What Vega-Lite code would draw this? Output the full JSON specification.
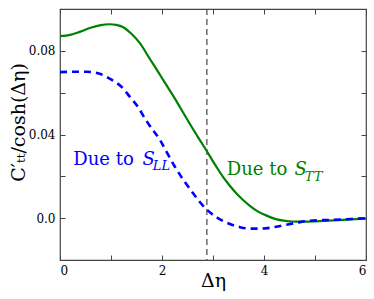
{
  "$schema": "https://vega.github.io/schema/vega-lite/v6.json",
  "width": 306,
  "height": 251,
  "autosize": {"type": "none"},
  "padding": {"left": 60, "top": 9, "right": 8, "bottom": 39},
  "background": "white",
  "config": {
    "view": {"stroke": "#444", "strokeWidth": 1.2},
    "font": "DejaVu Serif",
    "axis": {"grid": false, "domain": false, "ticks": true, "tickColor": "#444", "tickSize": 5, "tickWidth": 1, "offset": -5, "labelPadding": 5, "labelFont": "DejaVu Serif", "labelFontSize": 12, "labelColor": "black", "titleFont": "DejaVu Serif", "titleFontWeight": "normal", "titleColor": "black"}
  },
  "datasets": {
    "curves": [
      {"series": "TT", "x": 0, "y": 0.0870}, {"series": "TT", "x": 0.2, "y": 0.0876}, {"series": "TT", "x": 0.4, "y": 0.0892},
      {"series": "TT", "x": 0.6, "y": 0.0910}, {"series": "TT", "x": 0.8, "y": 0.0923}, {"series": "TT", "x": 0.97, "y": 0.0927},
      {"series": "TT", "x": 1.1, "y": 0.0924}, {"series": "TT", "x": 1.24, "y": 0.0913}, {"series": "TT", "x": 1.4, "y": 0.0882},
      {"series": "TT", "x": 1.57, "y": 0.0836}, {"series": "TT", "x": 1.76, "y": 0.0762}, {"series": "TT", "x": 1.9, "y": 0.0709},
      {"series": "TT", "x": 2.05, "y": 0.0650}, {"series": "TT", "x": 2.25, "y": 0.0573}, {"series": "TT", "x": 2.42, "y": 0.0503},
      {"series": "TT", "x": 2.58, "y": 0.0437}, {"series": "TT", "x": 2.73, "y": 0.0378}, {"series": "TT", "x": 2.88, "y": 0.0320},
      {"series": "TT", "x": 3.05, "y": 0.0252}, {"series": "TT", "x": 3.2, "y": 0.0196}, {"series": "TT", "x": 3.33, "y": 0.0155},
      {"series": "TT", "x": 3.46, "y": 0.0118}, {"series": "TT", "x": 3.59, "y": 0.0087}, {"series": "TT", "x": 3.73, "y": 0.0058},
      {"series": "TT", "x": 3.86, "y": 0.0035}, {"series": "TT", "x": 4.0, "y": 0.0017}, {"series": "TT", "x": 4.12, "y": 0.0005},
      {"series": "TT", "x": 4.25, "y": -0.0006}, {"series": "TT", "x": 4.38, "y": -0.0012}, {"series": "TT", "x": 4.55, "y": -0.0016},
      {"series": "TT", "x": 4.71, "y": -0.0017}, {"series": "TT", "x": 5.0, "y": -0.0015}, {"series": "TT", "x": 5.36, "y": -0.0011},
      {"series": "TT", "x": 5.7, "y": -0.0006}, {"series": "TT", "x": 6.0, "y": -0.0002},
      {"series": "LL", "x": 0, "y": 0.0698}, {"series": "LL", "x": 0.26, "y": 0.0700}, {"series": "LL", "x": 0.52, "y": 0.0700},
      {"series": "LL", "x": 0.78, "y": 0.0690}, {"series": "LL", "x": 1.01, "y": 0.0662}, {"series": "LL", "x": 1.21, "y": 0.0627},
      {"series": "LL", "x": 1.37, "y": 0.0580}, {"series": "LL", "x": 1.52, "y": 0.0535}, {"series": "LL", "x": 1.67, "y": 0.0475},
      {"series": "LL", "x": 1.76, "y": 0.0442}, {"series": "LL", "x": 1.96, "y": 0.0374}, {"series": "LL", "x": 2.1, "y": 0.0312},
      {"series": "LL", "x": 2.25, "y": 0.0247}, {"series": "LL", "x": 2.42, "y": 0.0183}, {"series": "LL", "x": 2.61, "y": 0.0119},
      {"series": "LL", "x": 2.84, "y": 0.0050}, {"series": "LL", "x": 3.07, "y": 0.0004}, {"series": "LL", "x": 3.2, "y": -0.0014},
      {"series": "LL", "x": 3.33, "y": -0.0028}, {"series": "LL", "x": 3.53, "y": -0.0043}, {"series": "LL", "x": 3.73, "y": -0.0050},
      {"series": "LL", "x": 3.92, "y": -0.0050}, {"series": "LL", "x": 4.12, "y": -0.0046}, {"series": "LL", "x": 4.38, "y": -0.0034},
      {"series": "LL", "x": 4.64, "y": -0.0022}, {"series": "LL", "x": 4.9, "y": -0.0012}, {"series": "LL", "x": 5.36, "y": -0.0008},
      {"series": "LL", "x": 5.7, "y": -0.0004}, {"series": "LL", "x": 6.0, "y": 0.0}
    ],
    "labels": [
      {"series": "LL", "kind": "roman", "text": "Due to", "x": 0.26, "y": 0.0255},
      {"series": "LL", "kind": "italic", "text": "S", "x": 1.62, "y": 0.0255},
      {"series": "LL", "kind": "sub", "text": "LL", "x": 1.82, "y": 0.0232},
      {"series": "TT", "kind": "roman", "text": "Due to", "x": 3.27, "y": 0.0207},
      {"series": "TT", "kind": "italic", "text": "S", "x": 4.6, "y": 0.0207},
      {"series": "TT", "kind": "sub", "text": "TT", "x": 4.8, "y": 0.0180}
    ],
    "vline": [{"x": 2.88}]
  },
  "resolve": {"axis": {"x": "independent", "y": "independent"}},
  "layer": [
    {
      "data": {"name": "vline"},
      "mark": {"type": "rule", "color": "#444", "strokeWidth": 1.2, "strokeDash": [6, 4]},
      "encoding": {
        "x": {"field": "x", "type": "quantitative", "scale": {"domain": [0, 6], "nice": false},
          "axis": {"orient": "bottom", "values": [0, 1, 2, 3, 4, 5, 6], "labelExpr": "datum.value % 2 == 0 ? datum.label : ''", "title": "Δη", "titleFontSize": 19, "titleBaseline": "alphabetic", "titleY": 31, "titleX": 153}},
        "y": {"datum": 0.1, "type": "quantitative", "scale": {"domain": [-0.02, 0.1], "nice": false, "zero": false},
          "axis": {"orient": "left", "values": [-0.02, 0, 0.02, 0.04, 0.06, 0.08, 0.1], "labelExpr": "datum.value == 0 ? '0.0' : (abs(datum.value - 0.04) < 1e-9 || abs(datum.value - 0.08) < 1e-9 ? format(datum.value, '.2f') : '')", "title": "C′ₜₜ/cosh(Δη)", "titleFontSize": 19, "titleBaseline": "alphabetic", "titleAngle": -90, "titleX": -41, "titleY": 113, "titleAlign": "center"}},
        "y2": {"datum": -0.02}
      }
    },
    {
      "data": {"name": "curves"},
      "transform": [{"filter": "datum.series == 'TT'"}],
      "mark": {"type": "line", "color": "#008000", "strokeWidth": 2.2, "interpolate": "monotone"},
      "encoding": {
        "x": {"field": "x", "type": "quantitative", "axis": {"orient": "top", "values": [0, 1, 2, 3, 4, 5, 6], "labels": false, "title": null}},
        "y": {"field": "y", "type": "quantitative", "axis": {"orient": "right", "values": [-0.02, 0, 0.02, 0.04, 0.06, 0.08, 0.1], "labels": false, "title": null}}
      }
    },
    {
      "data": {"name": "curves"},
      "transform": [{"filter": "datum.series == 'LL'"}],
      "mark": {"type": "line", "color": "#0000ff", "strokeWidth": 2.6, "strokeDash": [7, 5], "interpolate": "monotone"},
      "encoding": {
        "x": {"field": "x", "type": "quantitative", "axis": null},
        "y": {"field": "y", "type": "quantitative", "axis": null}
      }
    },
    {
      "data": {"name": "labels"},
      "transform": [{"filter": "datum.kind == 'roman'"}],
      "mark": {"type": "text", "align": "left", "baseline": "alphabetic", "fontSize": 18, "font": "DejaVu Serif"},
      "encoding": {
        "x": {"field": "x", "type": "quantitative", "axis": null},
        "y": {"field": "y", "type": "quantitative", "axis": null},
        "text": {"field": "text"},
        "color": {"field": "series", "type": "nominal", "scale": {"domain": ["LL", "TT"], "range": ["#0000ff", "#008000"]}, "legend": null}
      }
    },
    {
      "data": {"name": "labels"},
      "transform": [{"filter": "datum.kind == 'italic'"}],
      "mark": {"type": "text", "align": "left", "baseline": "alphabetic", "fontSize": 18, "fontStyle": "italic", "font": "DejaVu Serif"},
      "encoding": {
        "x": {"field": "x", "type": "quantitative", "axis": null},
        "y": {"field": "y", "type": "quantitative", "axis": null},
        "text": {"field": "text"},
        "color": {"field": "series", "type": "nominal", "scale": {"domain": ["LL", "TT"], "range": ["#0000ff", "#008000"]}, "legend": null}
      }
    },
    {
      "data": {"name": "labels"},
      "transform": [{"filter": "datum.kind == 'sub'"}],
      "mark": {"type": "text", "align": "left", "baseline": "alphabetic", "fontSize": 13, "fontStyle": "italic", "font": "DejaVu Serif"},
      "encoding": {
        "x": {"field": "x", "type": "quantitative", "axis": null},
        "y": {"field": "y", "type": "quantitative", "axis": null},
        "text": {"field": "text"},
        "color": {"field": "series", "type": "nominal", "scale": {"domain": ["LL", "TT"], "range": ["#0000ff", "#008000"]}, "legend": null}
      }
    }
  ]
}
